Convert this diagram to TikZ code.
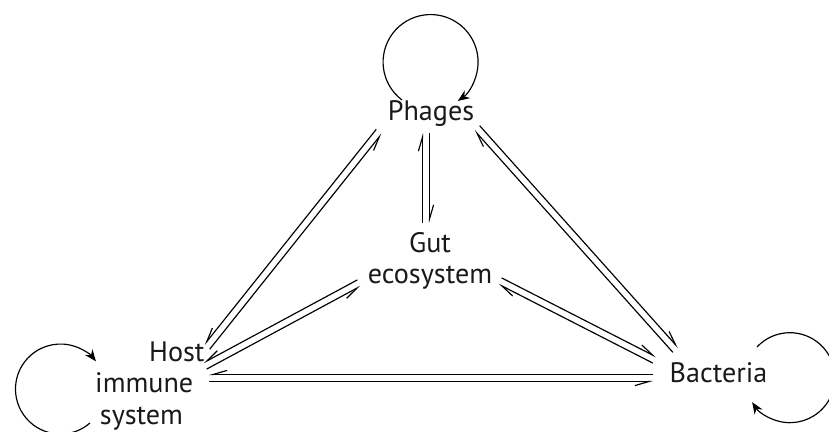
\documentclass[tikz,border=0pt]{standalone}
\usepackage{fontspec}
\setmainfont{PT Sans}
\usetikzlibrary{arrows.meta,calc}

% two opposite half-arrows, each on the left of its own direction
\newcommand{\eqleft}[2]{%
  \draw[harpl] ($(#1)!3pt!90:(#2)$) -- ($(#2)!3pt!-90:(#1)$);
  \draw[harpl] ($(#2)!3pt!90:(#1)$) -- ($(#1)!3pt!-90:(#2)$);}
% same, each on the right of its own direction
\newcommand{\eqright}[2]{%
  \draw[harpr] ($(#1)!3pt!-90:(#2)$) -- ($(#2)!3pt!90:(#1)$);
  \draw[harpr] ($(#2)!3pt!-90:(#1)$) -- ($(#1)!3pt!90:(#2)$);}

\begin{document}
\begin{tikzpicture}[x=0.03cm,y=-0.03cm,
  lbl/.style={inner sep=0pt,font=\fontsize{24pt}{27pt}\selectfont,text=black!90},
  harpl/.style={-{Straight Barb[harpoon,length=12pt,width=7pt]},line width=1pt},
  harpr/.style={-{Straight Barb[harpoon,swap,length=12pt,width=7pt]},line width=1pt},
  cyc/.style={-{Stealth[length=10pt,width=8pt]},line width=1pt}]
\useasboundingbox (0,0) rectangle (829,432);

\node[lbl] (phages) at (431,113.5) {Phages};
\node[lbl,align=center] (gut) at (430,261) {Gut\\ecosystem};
\node[lbl,align=left,anchor=west] (host) at (95,386) {\hspace*{46pt}Host\\immune\\\hspace*{4pt}system};
\node[lbl] (bacteria) at (718.5,373) {Bacteria};

% self loops
\draw[cyc] ([shift={(-29,-13.5)}]phages.center) arc[start angle=127,end angle=415,radius=47.5];
\draw[cyc] ([shift={(-5,37)}]host.west) arc[start angle=49,end angle=322,radius=45];
\draw[cyc] ([shift={(38.5,-26)}]bacteria.center) arc[start angle=223,end angle=507,radius=45];

% exchanges
\eqleft{[shift={(-5,19.5)}]phages.center}{[shift={(-4,-38)}]gut.center}
\eqright{[shift={(112,-39)}]host.west}{[shift={(-52,18)}]phages.center}
\eqleft{[shift={(46,14.5)}]phages.center}{[shift={(-43,-23)}]bacteria.center}
\eqright{[shift={(110,-20)}]host.west}{[shift={(-71,22)}]gut.center}
\eqleft{[shift={(70,20)}]gut.center}{[shift={(-64,-13)}]bacteria.center}
\eqright{[shift={(114,-8)}]host.west}{[shift={(-65.5,5)}]bacteria.center}
\end{tikzpicture}
\end{document}
